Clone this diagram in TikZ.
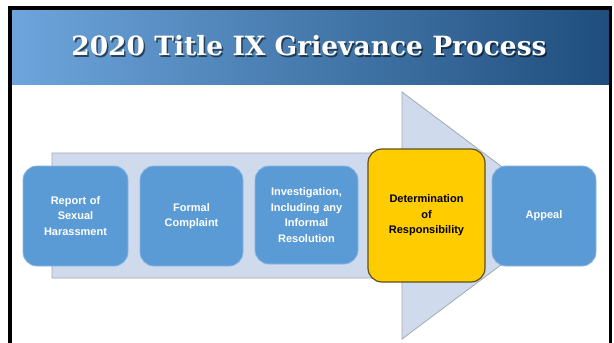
\documentclass[tikz,border=0pt]{standalone}
\usepackage{fontspec}
\setmainfont{Liberation Sans}
\newfontfamily\titlefont{DejaVu Serif}
\definecolor{barL}{HTML}{6DA5DC}
\definecolor{barR}{HTML}{1F4E7D}
\definecolor{arrowfill}{HTML}{CFDBEC}
\definecolor{arrowline}{HTML}{A3A9B3}
\definecolor{boxblue}{HTML}{5B9BD5}
\definecolor{boxedge}{HTML}{86B5E3}
\definecolor{goldfill}{HTML}{FFCC00}
\definecolor{goldedge}{HTML}{5E5020}
\tikzset{
  stepbox/.style={draw=boxedge, line width=0.8pt, fill=boxblue, rounded corners=14pt,
    text=white, font=\fontsize{11}{15.5}\selectfont\bfseries, align=center,
    inner sep=2pt, text width=96pt},
  goldbox/.style={draw=goldedge, line width=1.2pt, fill=goldfill, rounded corners=14pt,
    text=black, font=\fontsize{11}{15.5}\selectfont\bfseries, align=center,
    inner sep=2pt, text width=108pt, minimum width=117pt, minimum height=133pt},
  titletext/.style={font=\titlefont\fontsize{26.5}{28}\selectfont\bfseries},
}
\begin{document}
\begin{tikzpicture}[x=1pt,y=-1pt]
\useasboundingbox (0,0) rectangle (614,343);
\fill[white] (0,0) rectangle (614,343);
% frame
\fill[black] (8,6) rectangle (612,10);
\fill[black] (8,6) rectangle (12,343);
\fill[black] (609,6) rectangle (612,343);
% title bar
\shade[left color=barL, right color=barR] (12,10) rectangle (609,84);
\node[titletext, text=black, opacity=0.55] at (310.5,47.5) {2020 Title IX Grievance Process};
\node[titletext, text=white] (title) at (309,46) {2020 Title IX Grievance Process};
% big arrow
\filldraw[fill=arrowfill, draw=arrowline, line width=0.8pt]
  (52,153) -- (402,153) -- (402,92) -- (567,215.5) -- (402,339) -- (402,278) -- (52,278) -- cycle;
% boxes
\node[stepbox, minimum width=105pt, minimum height=100pt] (report) at (75.5,216) {Report of\\Sexual\\Harassment};
\node[stepbox, minimum width=103pt, minimum height=100pt] (formal) at (191.5,216) {Formal\\Complaint};
\node[stepbox, minimum width=103pt, minimum height=98pt] (invest) at (306.5,215) {Investigation,\\Including any\\Informal\\Resolution};
\node[goldbox] (determ) at (426.5,215.5) {Determination\\of\\Responsibility};
\node[stepbox, minimum width=104pt, minimum height=100pt] (appeal) at (544,216) {Appeal};
\end{tikzpicture}
\end{document}
